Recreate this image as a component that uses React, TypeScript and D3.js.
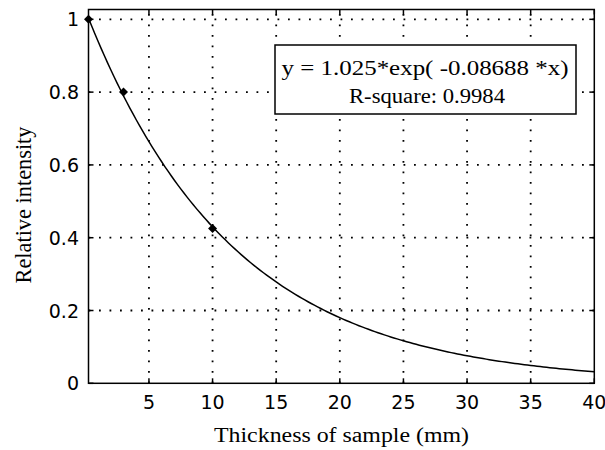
import React from "react";
import * as d3 from "d3";

const thickness = [0.25, 3, 10];
const intensity = [1, 0.8, 0.425];
const fitA = 1.025;
const fitB = -0.08688;
const rSquare = 0.9984;
const xTicks = [5, 10, 15, 20, 25, 30, 35, 40];
const yTicks = [0, 0.2, 0.4, 0.6, 0.8, 1];
const xLabel = "Thickness of sample (mm)";
const yLabel = "Relative intensity";

const W = 605, H = 450;
const L = 88.5, R = 594.3, T = 9.5, B = 383.3;

export default function App() {
  const x = d3.scaleLinear().domain([0.25, 40]).range([L, R]);
  const y = d3.scaleLinear().domain([0, 1.027]).range([B, T]);
  const xs = d3.range(0.25, 40.001, 0.25);
  const line = d3.line<number>().x((d) => x(d)).y((d) => y(fitA * Math.exp(fitB * d)));
  const tick = 5;
  const sans = "DejaVu Sans";
  const serif = "Liberation Serif";
  return (
    <svg width={W} height={H} style={{ position: "absolute", left: 0, top: 0, background: "#fff" }}>
      <rect x={0} y={0} width={W} height={H} fill="#fff" />
      {/* grid */}
      {xTicks.filter((t) => t < 40).map((t) => (
        <line key={"gx" + t} x1={x(t)} x2={x(t)} y1={B} y2={T} stroke="#000" strokeWidth={1.8} strokeDasharray="1.8,8.7" />
      ))}
      {yTicks.filter((t) => t > 0).map((t) => (
        <line key={"gy" + t} x1={L} x2={R} y1={y(t)} y2={y(t)} stroke="#000" strokeWidth={1.8} strokeDasharray="1.8,8.7" />
      ))}
      {/* ticks */}
      {xTicks.map((t) => (
        <g key={"tx" + t}>
          <line x1={x(t)} x2={x(t)} y1={B} y2={B - tick} stroke="#000" strokeWidth={1.5} />
          <line x1={x(t)} x2={x(t)} y1={T} y2={T + tick} stroke="#000" strokeWidth={1.5} />
          <text x={x(t)} y={409} textAnchor="middle" fontFamily={sans} fontSize={19} fill="#000">{t}</text>
        </g>
      ))}
      {yTicks.map((t) => (
        <g key={"ty" + t}>
          <line x1={L} x2={L + tick} y1={y(t)} y2={y(t)} stroke="#000" strokeWidth={1.5} />
          <line x1={R} x2={R - tick} y1={y(t)} y2={y(t)} stroke="#000" strokeWidth={1.5} />
          <text x={79} y={y(t) + 7} textAnchor="end" fontFamily={sans} fontSize={19} fill="#000">{t}</text>
        </g>
      ))}
      {/* box */}
      <rect x={L} y={T} width={R - L} height={B - T} fill="none" stroke="#000" strokeWidth={1.5} />
      {/* fit curve */}
      <path d={line(xs) || ""} fill="none" stroke="#000" strokeWidth={1.5} />
      {/* data points */}
      {thickness.map((t, i) => {
        const cx = x(t), cy = y(intensity[i]);
        const s = 4.5;
        return <path key={"p" + i} d={`M${cx},${cy - s}L${cx + s},${cy}L${cx},${cy + s}L${cx - s},${cy}Z`} fill="#000" />;
      })}
      {/* legend */}
      <rect x={275} y={45} width={301} height={69} fill="#fff" stroke="#000" strokeWidth={1.5} />
      <text x={425} y={75} textAnchor="middle" fontFamily={serif} fontSize={20} fill="#000" textLength={287} lengthAdjust="spacingAndGlyphs">
        {`y = ${fitA}*exp( ${fitB} *x)`}
      </text>
      <text x={427} y={103} textAnchor="middle" fontFamily={serif} fontSize={20} fill="#000" textLength={156} lengthAdjust="spacingAndGlyphs">
        {`R-square: ${rSquare}`}
      </text>
      {/* axis labels */}
      <text x={341.5} y={442} textAnchor="middle" fontFamily={serif} fontSize={20} fill="#000" textLength={255} lengthAdjust="spacingAndGlyphs">{xLabel}</text>
      <text transform={`translate(31,205) rotate(-90) scale(1,1.25)`} textAnchor="middle" fontFamily={serif} fontSize={18} fill="#000" textLength={157} lengthAdjust="spacingAndGlyphs">{yLabel}</text>
    </svg>
  );
}
